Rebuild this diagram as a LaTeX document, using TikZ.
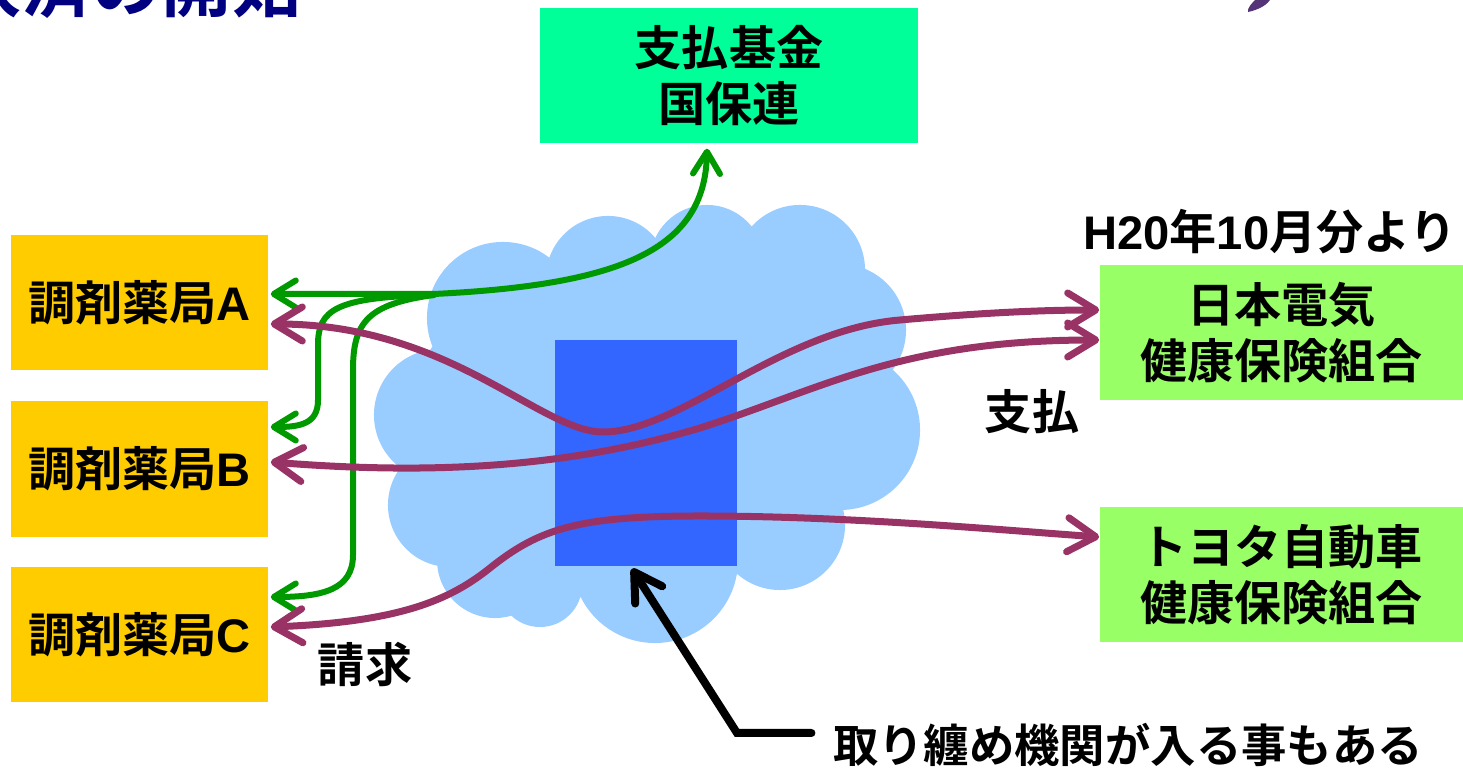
\documentclass[tikz,border=0pt]{standalone}
\usepackage{fontspec}
\setmainfont{Noto Sans CJK JP}[BoldFont=* Bold]
\newfontfamily\lat{Liberation Sans}
\usetikzlibrary{arrows.meta,calc}
\definecolor{plum}{HTML}{993366}
\definecolor{leaf}{HTML}{009900}
\definecolor{sky}{HTML}{99CCFF}
\definecolor{royal}{HTML}{3366FF}
\definecolor{amber}{HTML}{FFCC00}
\definecolor{spring}{HTML}{00FF99}
\definecolor{lime}{HTML}{99FF66}
\definecolor{navy}{HTML}{000080}
\definecolor{logo}{HTML}{553377}
\tikzset{
  boxbase/.style={rectangle, inner sep=0pt, align=center, text=black,
    font=\fontsize{13.4}{16}\selectfont\bfseries},
  fundbox/.style={boxbase, fill=spring, minimum width=3.78cm, minimum height=1.35cm},
  pharmbox/.style={boxbase, fill=amber, minimum width=2.57cm, minimum height=1.35cm},
  insbox/.style={boxbase, fill=lime, minimum width=3.63cm, minimum height=1.35cm},
  aggbox/.style={rectangle, inner sep=0pt, fill=royal, minimum width=1.82cm, minimum height=2.26cm},
  lbl/.style={inner sep=0pt, text=black, font=\fontsize{13.4}{16}\selectfont\bfseries},
  gbarb/.tip={Straight Barb[length=0.22cm, width=0.27cm, round]},
  pbarb/.tip={Straight Barb[length=0.28cm, width=0.34cm, round]},
  kbarb/.tip={Straight Barb[length=0.27cm, width=0.32cm, round]},
  gline/.style={draw=leaf, line width=0.06cm, line cap=round},
  pline/.style={draw=plum, line width=0.07cm, line cap=round, pbarb-pbarb},
  kline/.style={draw=black, line width=0.08cm, line cap=round, line join=miter, -kbarb},
}
\begin{document}
\begin{tikzpicture}[x=0.01cm, y=-0.01cm]
\useasboundingbox (0,0) rectangle (1463,768);

% partial title and logo at the top edge
\begin{scope}
\clip (0,0) rectangle (1463,768);
\node[anchor=south east, inner sep=0pt, text=navy,
  font=\fontsize{19.9}{22}\selectfont\bfseries] (title) at (302,19) {決済の開始};
\fill[logo] (1248,12) .. controls (1258,10) and (1268,5) .. (1271,-2)
  -- (1257,-2) .. controls (1252,3) and (1247,8) .. cycle;
\end{scope}

% cloud
\fill[sky]
  (640,420) ellipse [x radius=2.3cm, y radius=1.7cm]
  (503,318) circle (0.76cm)
  (608,278) circle (0.62cm)
  (707,262) circle (0.57cm)
  (800,270) circle (0.65cm)
  (840,330) circle (0.66cm)
  (840,430) circle (0.80cm)
  (780,525) circle (0.65cm)
  (655,560) circle (0.83cm)
  (540,585) circle (0.42cm)
  (495,560) circle (0.58cm)
  (450,505) circle (0.62cm)
  (440,415) circle (0.66cm);

% nodes
\node[aggbox] (agg) at (646,453) {};
\node[fundbox] (fund) at (729,75.5) {支払基金\\国保連};
\node[pharmbox] (A) at (139.5,302.5) {調剤薬局{\lat A}};
\node[pharmbox] (B) at (139.5,469) {調剤薬局{\lat B}};
\node[pharmbox] (C) at (139.5,634.5) {調剤薬局{\lat C}};
\node[insbox] (nec) at (1281.5,332.5) {日本電気\\健康保険組合};
\node[insbox] (toyota) at (1281.5,574.5) {トヨタ自動車\\健康保険組合};
\node[lbl] (from) at (1270,232) {{\lat H20}年{\lat 10}月分より};
\node[lbl] (pay) at (1032,412) {支払};
\node[lbl] (claim) at (365,665) {請求};
\node[lbl, font=\fontsize{12.9}{16}\selectfont\bfseries] (note) at (1128,745) {取り纏め機関が入る事もある};

% green connectors
\coordinate (jn) at (434,295);
\draw[gline, gbarb-gbarb] ($(A.east)+(2,-8.5)$) -- (434,294)
  .. controls (620,285) and (705,250) .. ($(fund.south)+(-22,5)$);
\draw[gline, -gbarb] (jn) .. controls (335,297) and (318,310) .. (318,345)
  -- (318,400) .. controls (318,424) and (300,427) .. ($(B.east)+(2,-42)$);
\draw[gline, -gbarb] (jn) .. controls (368,304) and (353,322) .. (353,370)
  -- (353,555) .. controls (353,590) and (322,597) .. ($(C.east)+(2,-37.5)$);

% purple connectors
\draw[pline] ($(A.east)+(2,21.5)$) .. controls (450,324) and (540,432) .. (603,432)
  .. controls (680,432) and (780,330) .. (900,320)
  .. controls (980,313) and (1040,310) .. ($(nec.west)+(0,-22.5)$);
\draw[pline] ($(B.east)+(2,-7)$) .. controls (420,474) and (560,470) .. (700,428)
  .. controls (820,390) and (900,340) .. ($(nec.west)+(0,7.5)$);
\draw[pline] ($(C.east)+(2,-7.5)$) .. controls (400,622) and (450,600) .. (490,568)
  .. controls (540,528) and (580,516) .. (700,516)
  .. controls (850,516) and (1000,530) .. ($(toyota.west)+(0,-37.5)$);

% black pointer
\draw[kline] ($(note.west)+(-21,-12)$) -- (737,733) -- ($(agg.south)+(-14,2)$);
\end{tikzpicture}
\end{document}
